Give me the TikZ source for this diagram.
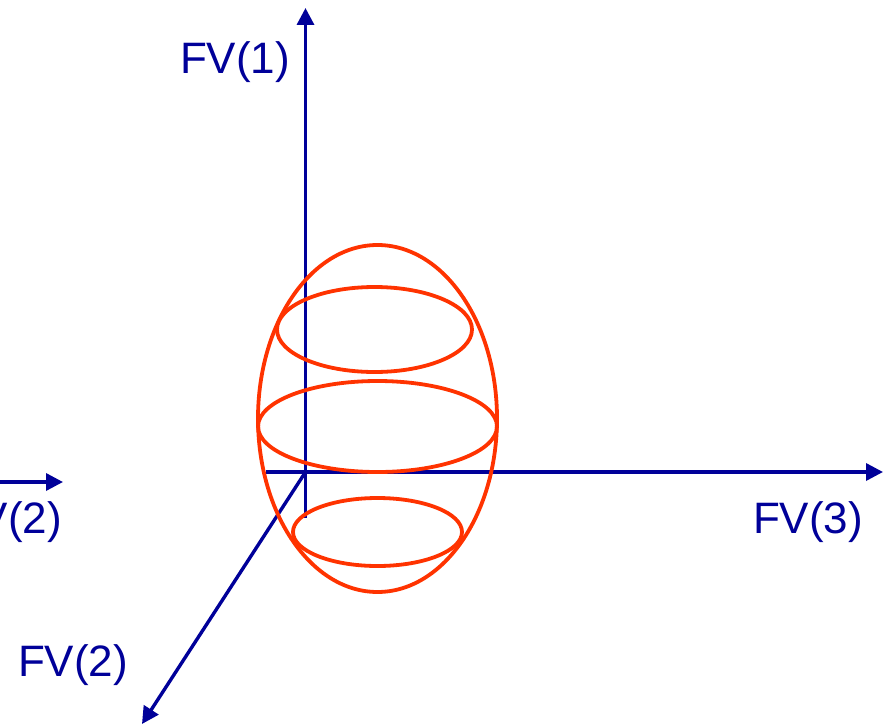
\documentclass[tikz,border=0pt]{standalone}
\usepackage{fontspec}
\setmainfont{Liberation Sans}
\usetikzlibrary{arrows.meta}
\definecolor{axisblue}{RGB}{0,0,153}
\definecolor{ovalred}{RGB}{255,51,0}
\tikzset{
  axis/.style={draw=axisblue, line width=3.4pt, -{Triangle[length=17pt,width=17pt]}},
  plainaxis/.style={draw=axisblue, line width=3.4pt},
  oval/.style={draw=ovalred, line width=3.8pt},
  lab/.style={text=axisblue, font=\fontsize{44}{50}\selectfont, inner sep=0pt}
}
\begin{document}
\begin{tikzpicture}[x=1pt,y=-1pt]
\useasboundingbox (0,0) rectangle (883,725);
% axes
\coordinate (O) at (305.5,472);
\coordinate (vtop) at (305.5,8);
\coordinate (vbot) at (305.5,518);
\coordinate (hleft) at (266,472);
\coordinate (hright) at (883,472);
\coordinate (dtip) at (142,724);
\coordinate (lstart) at (-20,482);
\coordinate (lend) at (63,482);
\draw[plainaxis] (O) -- (vbot);
\draw[axis] (vbot) -- (vtop);
\draw[axis] (hleft) -- (hright);
\draw[axis] (O) -- (dtip);
\draw[axis] (lstart) -- (lend);
% ovals
\draw[oval] (377.5,418.5) ellipse [x radius=119.5, y radius=173.5];
\draw[oval] (374.5,329.5) ellipse [x radius=97.5, y radius=42.5];
\draw[oval] (377.5,426.5) ellipse [x radius=119.5, y radius=45.5];
\draw[oval] (377.5,532) ellipse [x radius=84.5, y radius=34];
% labels
\node[lab] (fv1) at (235,62) {FV(1)};
\node[lab] (fv3) at (808,522) {FV(3)};
\node[lab] (fv2) at (73,665) {FV(2)};
\node[lab, anchor=east] (fv2l) at (62,522) {FV(2)};
\end{tikzpicture}
\end{document}
